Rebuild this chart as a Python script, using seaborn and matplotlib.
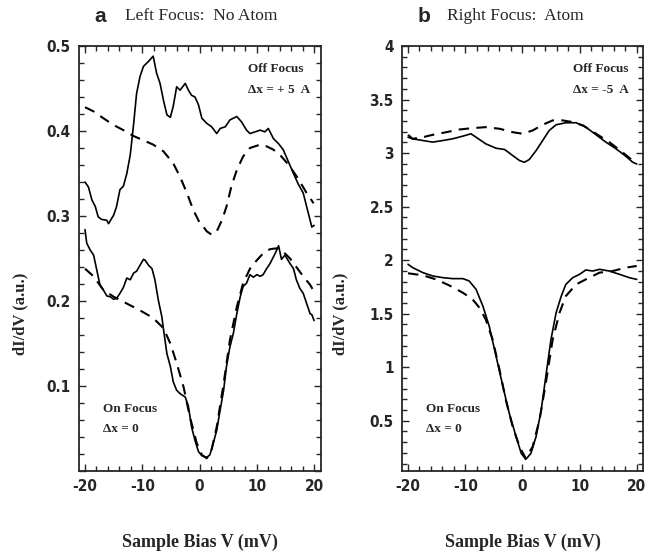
import numpy as np
import pandas as pd
import matplotlib
matplotlib.use("Agg")
import matplotlib.pyplot as plt
from matplotlib.ticker import MultipleLocator, FuncFormatter
import seaborn as sns

# ---- data ----
# panel a (left focus, no atom)
a_off_meas_x = [-20, -19.4, -18.8, -18.2, -17.7, -17.1, -16.2, -15.9, -15.0, -14.5, -13.9, -13.3, -12.7,
                -12.1, -11.5, -11.0, -10.4, -9.8, -8.9, -8.1, -7.5, -6.9, -6.3, -5.7, -5.1, -4.6, -4.0,
                -3.4, -2.5, -1.95, -1.4, -0.8, -0.2, 0.4, 1.25, 2.1, 3.0, 3.6, 4.5, 5.3, 5.9, 6.5, 7.3,
                8.2, 8.8, 9.7, 10.6, 11.4, 12.0, 12.9, 13.8, 14.6, 15.5, 16.4, 17.2, 18.1, 18.7, 19.3,
                19.6, 20]
a_off_meas_y = [0.340, 0.334, 0.319, 0.311, 0.299, 0.296, 0.295, 0.291, 0.301, 0.311, 0.331, 0.335, 0.350,
                0.372, 0.409, 0.444, 0.464, 0.476, 0.482, 0.488, 0.468, 0.456, 0.436, 0.419, 0.416, 0.429,
                0.452, 0.448, 0.456, 0.448, 0.442, 0.440, 0.431, 0.415, 0.409, 0.405, 0.397, 0.403, 0.405,
                0.413, 0.415, 0.417, 0.411, 0.401, 0.397, 0.399, 0.401, 0.399, 0.403, 0.391, 0.385, 0.378,
                0.364, 0.350, 0.338, 0.327, 0.311, 0.295, 0.287, 0.289]

a_off_calc_x = [-20, -18.5, -16.8, -15.0, -13.3, -11.5, -9.8, -8.1, -6.3, -4.6, -3.4, -2.2, -1.1, 0.1,
                0.7, 1.25, 2.1, 3.0, 3.9, 4.7, 5.6, 6.5, 7.6, 8.8, 10.6, 11.7, 12.9, 14.3, 15.8, 17.2,
                18.7, 19.9]
a_off_calc_y = [0.428, 0.423, 0.415, 0.407, 0.401, 0.394, 0.389, 0.384, 0.376, 0.362, 0.346, 0.327, 0.307,
                0.291, 0.287, 0.282, 0.278, 0.282, 0.295, 0.311, 0.336, 0.354, 0.370, 0.380, 0.384, 0.382,
                0.378, 0.370, 0.358, 0.344, 0.327, 0.315]

a_on_meas_x = [-20, -19.7, -19.1, -18.5, -17.9, -17.4, -16.8, -16.2, -15.6, -15.0, -14.5, -13.9, -13.3,
               -12.7, -12.1, -11.5, -11.0, -10.4, -9.8, -9.5, -8.9, -8.3, -7.8, -7.2, -6.6, -6.2, -5.7,
               -5.1, -4.6, -4.0, -3.4, -2.5, -1.95, -1.4, -0.8, -0.2, 0.4, 1.25, 1.8, 2.4, 3.0, 3.6, 4.2,
               4.7, 5.3, 5.9, 6.5, 7.1, 7.6, 8.2, 8.8, 9.4, 10.0, 10.6, 11.1, 11.7, 12.3, 13.2, 13.8,
               14.3, 14.9, 15.8, 16.4, 16.9, 17.5, 18.1, 18.7, 19.3, 19.6, 20]
a_on_meas_y = [0.284, 0.268, 0.260, 0.254, 0.235, 0.219, 0.213, 0.206, 0.205, 0.202, 0.203, 0.209, 0.216,
               0.227, 0.225, 0.233, 0.235, 0.242, 0.249, 0.248, 0.242, 0.238, 0.225, 0.201, 0.182, 0.162,
               0.138, 0.123, 0.105, 0.095, 0.091, 0.087, 0.076, 0.052, 0.036, 0.023, 0.018, 0.016, 0.019,
               0.033, 0.048, 0.072, 0.095, 0.123, 0.146, 0.162, 0.185, 0.205, 0.217, 0.221, 0.231, 0.228,
               0.231, 0.229, 0.231, 0.238, 0.244, 0.256, 0.265, 0.249, 0.254, 0.244, 0.238, 0.225, 0.215,
               0.209, 0.197, 0.185, 0.184, 0.177]

a_on_calc_x = [-20, -18.5, -16.8, -15.0, -12.7, -10.4, -8.1, -6.3, -5.1, -4.0, -2.8, -1.7, -0.5, 0.4,
               1.25, 2.1, 3.0, 4.2, 5.3, 6.5, 7.6, 8.8, 10.0, 11.1, 12.3, 13.5, 14.6, 15.8, 16.9, 18.1,
               19.3, 20]
a_on_calc_y = [0.238, 0.229, 0.213, 0.205, 0.197, 0.189, 0.180, 0.168, 0.150, 0.127, 0.099, 0.064, 0.033,
               0.019, 0.015, 0.025, 0.052, 0.103, 0.154, 0.193, 0.221, 0.238, 0.248, 0.256, 0.261, 0.262,
               0.258, 0.250, 0.240, 0.229, 0.219, 0.211]

# panel b (right focus, atom)
b_off_meas_x = [-20, -19.2, -17.4, -15.7, -13.9, -12.2, -10.4, -9.0, -8.1, -6.4, -4.6, -3.1, -1.7, -0.5,
                0.35, 1.2, 2.4, 3.55, 4.7, 5.9, 7.6, 9.4, 11.1, 12.9, 14.6, 16.4, 18.1, 19.3, 20]
b_off_meas_y = [3.148, 3.133, 3.117, 3.102, 3.117, 3.133, 3.158, 3.180, 3.148, 3.086, 3.045, 3.033, 2.977,
                2.930, 2.914, 2.939, 3.023, 3.117, 3.211, 3.264, 3.283, 3.283, 3.242, 3.170, 3.102, 3.039,
                2.970, 2.914, 2.898]

b_off_calc_x = [-20, -19.2, -17.4, -15.7, -13.3, -11.0, -8.7, -6.4, -4.0, -1.7, 0.06, 1.8, 3.55, 5.3,
                7.05, 8.8, 10.6, 12.9, 15.2, 17.5, 20]
b_off_calc_y = [3.170, 3.133, 3.148, 3.170, 3.195, 3.220, 3.233, 3.242, 3.227, 3.195, 3.180, 3.211, 3.264,
                3.305, 3.305, 3.289, 3.258, 3.180, 3.102, 3.008, 2.898]

b_on_meas_x = [-20, -19.2, -17.4, -15.7, -13.9, -12.2, -10.4, -9.3, -8.1, -6.9, -5.8, -4.6, -3.4, -2.3,
               -1.1, -0.2, 0.6, 1.5, 2.4, 3.3, 4.1, 5.0, 5.9, 6.8, 7.6, 8.8, 10.0, 11.1, 12.3, 13.5,
               15.2, 17.0, 18.7, 20]
b_on_meas_y = [1.961, 1.930, 1.883, 1.852, 1.836, 1.827, 1.827, 1.805, 1.727, 1.570, 1.383, 1.102, 0.820,
               0.570, 0.352, 0.195, 0.139, 0.195, 0.352, 0.602, 0.914, 1.258, 1.508, 1.664, 1.773, 1.836,
               1.867, 1.908, 1.898, 1.914, 1.898, 1.867, 1.836, 1.820]

b_on_calc_x = [-20, -17.4, -15.1, -12.8, -10.4, -8.7, -7.5, -6.4, -5.2, -4.0, -2.9, -1.7, -0.5, 0.6,
               1.8, 3.0, 4.1, 5.3, 6.5, 7.6, 9.4, 11.1, 13.5, 15.8, 18.1, 20]
b_on_calc_y = [1.877, 1.858, 1.820, 1.764, 1.695, 1.633, 1.555, 1.445, 1.258, 0.977, 0.695, 0.445, 0.258,
               0.148, 0.258, 0.508, 0.852, 1.258, 1.508, 1.664, 1.773, 1.820, 1.883, 1.898, 1.930, 1.945]

sns.set_style("ticks")
plt.rcParams["font.family"] = ["Liberation Serif", "DejaVu Serif"]
plt.rcParams["axes.unicode_minus"] = False
TICKFONT = ["Liberation Sans Narrow", "DejaVu Sans"]

fig = plt.figure(figsize=(6.54, 5.52), dpi=100)
ax_a = fig.add_axes([0.1208, 0.1467, 0.370, 0.770])
ax_b = fig.add_axes([0.6147, 0.1467, 0.3685, 0.770])


def draw(ax, xs, ys, dashed):
    df = pd.DataFrame({"bias": xs, "didv": ys})
    sns.lineplot(data=df, x="bias", y="didv", ax=ax, color="black",
                 linewidth=1.5 if dashed else 1.2, sort=False, estimator=None,
                 linestyle=(0, (5, 3.5)) if dashed else "-")


draw(ax_a, a_off_meas_x, a_off_meas_y, False)
draw(ax_a, a_off_calc_x, a_off_calc_y, True)
draw(ax_a, a_on_meas_x, a_on_meas_y, False)
draw(ax_a, a_on_calc_x, a_on_calc_y, True)

draw(ax_b, b_off_meas_x, b_off_meas_y, False)
draw(ax_b, b_off_calc_x, b_off_calc_y, True)
draw(ax_b, b_on_meas_x, b_on_meas_y, False)
draw(ax_b, b_on_calc_x, b_on_calc_y, True)

ax_a.set_xlim(-21.05, 21.2)
ax_a.set_ylim(0.0, 0.5)
ax_a.yaxis.set_major_locator(MultipleLocator(0.1))
ax_a.yaxis.set_minor_locator(MultipleLocator(0.02))
ax_a.yaxis.set_major_formatter(FuncFormatter(lambda v, p: "" if abs(v) < 1e-9 else "%.1f" % v))

ax_b.set_xlim(-21.05, 21.1)
ax_b.set_ylim(0.03, 4.0)
ax_b.yaxis.set_major_locator(MultipleLocator(0.5))
ax_b.yaxis.set_minor_locator(MultipleLocator(0.1))
ax_b.yaxis.set_major_formatter(FuncFormatter(lambda v, p: "%g" % v))

for ax in (ax_a, ax_b):
    ax.xaxis.set_major_locator(MultipleLocator(10))
    ax.xaxis.set_minor_locator(MultipleLocator(2))
    ax.tick_params(which="both", direction="in", top=True, right=True, width=1.0)
    ax.tick_params(which="major", length=5, pad=6)
    ax.tick_params(which="minor", length=3.5)
    for lab in ax.get_xticklabels() + ax.get_yticklabels():
        lab.set_family(TICKFONT)
        lab.set_fontstretch("condensed")
        lab.set_fontweight("bold")
        lab.set_fontsize(11)
    for s in ax.spines.values():
        s.set_linewidth(1.3)
    ax.set_xlabel("Sample Bias V (mV)", fontsize=13, fontweight="bold", labelpad=28)
    ax.set_ylabel("dI/dV (a.u.)", fontsize=12, fontweight="bold")

ax_a.yaxis.set_label_coords(-0.211, 0.37)
ax_b.yaxis.set_label_coords(-0.224, 0.37)

ax_a.text(0.698, 0.946, "Off Focus", transform=ax_a.transAxes, fontsize=9.5, fontweight="bold", va="center")
ax_a.text(0.698, 0.896, "\u0394x = + 5  A", transform=ax_a.transAxes, fontsize=9.5, fontweight="bold", va="center")
ax_a.text(0.099, 0.146, "On Focus", transform=ax_a.transAxes, fontsize=9.5, fontweight="bold", va="center")
ax_a.text(0.099, 0.099, "\u0394x = 0", transform=ax_a.transAxes, fontsize=9.5, fontweight="bold", va="center")

ax_b.text(0.71, 0.946, "Off Focus", transform=ax_b.transAxes, fontsize=9.5, fontweight="bold", va="center")
ax_b.text(0.71, 0.896, "\u0394x = -5  A", transform=ax_b.transAxes, fontsize=9.5, fontweight="bold", va="center")
ax_b.text(0.10, 0.146, "On Focus", transform=ax_b.transAxes, fontsize=9.5, fontweight="bold", va="center")
ax_b.text(0.10, 0.099, "\u0394x = 0", transform=ax_b.transAxes, fontsize=9.5, fontweight="bold", va="center")

fig.text(100 / 654, 1 - 17 / 552, "a", family=["Liberation Sans", "DejaVu Sans"], fontsize=15,
         fontweight="bold", ha="center", va="center")
fig.text(125 / 654, 1 - 16 / 552, "Left Focus:  No Atom", fontsize=12.5, ha="left", va="center")
fig.text(424 / 654, 1 - 17 / 552, "b", family=["Liberation Sans", "DejaVu Sans"], fontsize=15,
         fontweight="bold", ha="center", va="center")
fig.text(447 / 654, 1 - 16 / 552, "Right Focus:  Atom", fontsize=12.5, ha="left", va="center")

fig.savefig("out.png", dpi=100)
